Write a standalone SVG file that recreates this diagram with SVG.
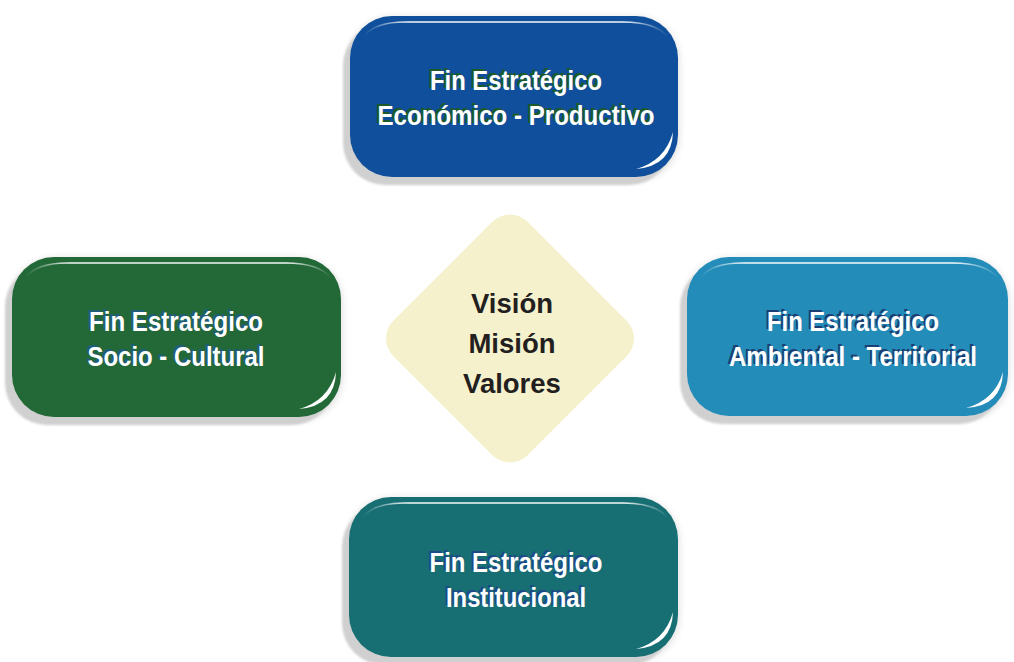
<svg xmlns="http://www.w3.org/2000/svg" width="1014" height="662" viewBox="0 0 1014 662">
<defs>
<filter id="soft" x="-20%" y="-20%" width="140%" height="140%"><feGaussianBlur stdDeviation="4"/></filter>
<filter id="gblur" x="-10%" y="-10%" width="120%" height="120%"><feGaussianBlur stdDeviation="1.2"/></filter>
<linearGradient id="hl" x1="0" y1="0" x2="1" y2="0">
<stop offset="0" stop-color="#fff" stop-opacity="0"/>
<stop offset="0.15" stop-color="#fff" stop-opacity="0.95"/>
<stop offset="0.85" stop-color="#fff" stop-opacity="0.95"/>
<stop offset="1" stop-color="#fff" stop-opacity="0"/>
</linearGradient>
</defs>
<style>
.t{font-family:"Liberation Sans",Arial,sans-serif;font-weight:bold;font-size:27.5px;text-anchor:middle;fill:#fff}
.s{font-family:"Liberation Sans",Arial,sans-serif;font-weight:bold;font-size:27.5px;text-anchor:middle}
.d{font-family:"Liberation Sans",Arial,sans-serif;font-weight:bold;font-size:27.5px;text-anchor:middle;fill:#231f20}
.sh{fill:#000;opacity:0.16;filter:url(#soft)}
.gr{fill:#d0d0d0;filter:url(#gblur)}
.hl{fill:none;stroke:url(#hl);stroke-width:1.6}
.cr{fill:#fff}
</style>
<rect width="1014" height="662" fill="#fff"/>

<g id="connectors"></g>

<g id="center">
<rect x="415" y="243.5" width="190" height="190" rx="25" fill="#f6f1cd" transform="rotate(45 510 338.5)"/>
<text class="d" x="512" y="313">Visión</text>
<text class="d" x="512" y="353">Misión</text>
<text class="d" x="512" y="393">Valores</text>
</g>

<g id="economico">
<rect class="sh" x="350" y="18" width="328" height="161" rx="42"/>
<rect class="gr" x="343" y="24" width="328" height="161" rx="42"/>
<rect x="350" y="16" width="328" height="161" rx="42" fill="#0f4f9b"/>
<path class="hl" d="M364 36 C372 26 386 22 405 22 L623 22 C643 22 660 27 668 37"/>
<path class="cr" d="M673 132 Q672 166 636 169 Q665 161 673 132 Z"/>
<g fill="#1d5a2a">
<text class="s" x="514" y="87.5" textLength="172" lengthAdjust="spacingAndGlyphs">Fin Estratégico</text>
<text class="s" x="514" y="122.5" textLength="277" lengthAdjust="spacingAndGlyphs">Económico - Productivo</text>
</g>
<text class="t" x="516" y="90" textLength="172" lengthAdjust="spacingAndGlyphs">Fin Estratégico</text>
<text class="t" x="516" y="125" textLength="277" lengthAdjust="spacingAndGlyphs">Económico - Productivo</text>
</g>

<g id="socio">
<rect class="sh" x="12" y="259" width="329" height="160" rx="42"/>
<rect class="gr" x="5" y="265" width="329" height="160" rx="42"/>
<rect x="12" y="257" width="329" height="160" rx="42" fill="#236937"/>
<path class="hl" d="M26 277 C34 267 48 263 67 263 L286 263 C306 263 323 268 331 278"/>
<path class="cr" d="M336 372 Q335 406 299 409 Q328 401 336 372 Z"/>
<g fill="#1f5d78">
<text class="s" x="174" y="328.5" textLength="174" lengthAdjust="spacingAndGlyphs">Fin Estratégico</text>
<text class="s" x="174" y="363.5" textLength="177" lengthAdjust="spacingAndGlyphs">Socio - Cultural</text>
</g>
<text class="t" x="176" y="331" textLength="174" lengthAdjust="spacingAndGlyphs">Fin Estratégico</text>
<text class="t" x="176" y="366" textLength="177" lengthAdjust="spacingAndGlyphs">Socio - Cultural</text>
</g>

<g id="ambiental">
<rect class="sh" x="687" y="259" width="321" height="159" rx="42"/>
<rect class="gr" x="680" y="265" width="321" height="159" rx="42"/>
<rect x="687" y="257" width="321" height="159" rx="42" fill="#238cb9"/>
<path class="hl" d="M701 277 C709 267 723 263 742 263 L953 263 C973 263 990 268 998 278"/>
<path class="cr" d="M1003 372 Q1002 406 966 408 Q995 400 1003 372 Z"/>
<g fill="#1b3f73">
<text class="s" x="851" y="328.5" textLength="172" lengthAdjust="spacingAndGlyphs">Fin Estratégico</text>
<text class="s" x="851" y="363.5" textLength="248" lengthAdjust="spacingAndGlyphs">Ambiental - Territorial</text>
</g>
<text class="t" x="853" y="331" textLength="172" lengthAdjust="spacingAndGlyphs">Fin Estratégico</text>
<text class="t" x="853" y="366" textLength="248" lengthAdjust="spacingAndGlyphs">Ambiental - Territorial</text>
</g>

<g id="institucional">
<rect class="sh" x="349" y="499" width="329" height="160" rx="42"/>
<rect class="gr" x="342" y="505" width="329" height="160" rx="42"/>
<rect x="349" y="497" width="329" height="160" rx="42" fill="#176f74"/>
<path class="hl" d="M363 517 C371 507 385 503 404 503 L623 503 C643 503 660 508 668 518"/>
<path class="cr" d="M673 612 Q672 646 636 649 Q665 641 673 612 Z"/>
<g fill="#1d4a86">
<text class="s" x="514" y="569.5" textLength="173" lengthAdjust="spacingAndGlyphs">Fin Estratégico</text>
<text class="s" x="514" y="604.5" textLength="140" lengthAdjust="spacingAndGlyphs">Institucional</text>
</g>
<text class="t" x="516" y="572" textLength="173" lengthAdjust="spacingAndGlyphs">Fin Estratégico</text>
<text class="t" x="516" y="607" textLength="140" lengthAdjust="spacingAndGlyphs">Institucional</text>
</g>
</svg>
